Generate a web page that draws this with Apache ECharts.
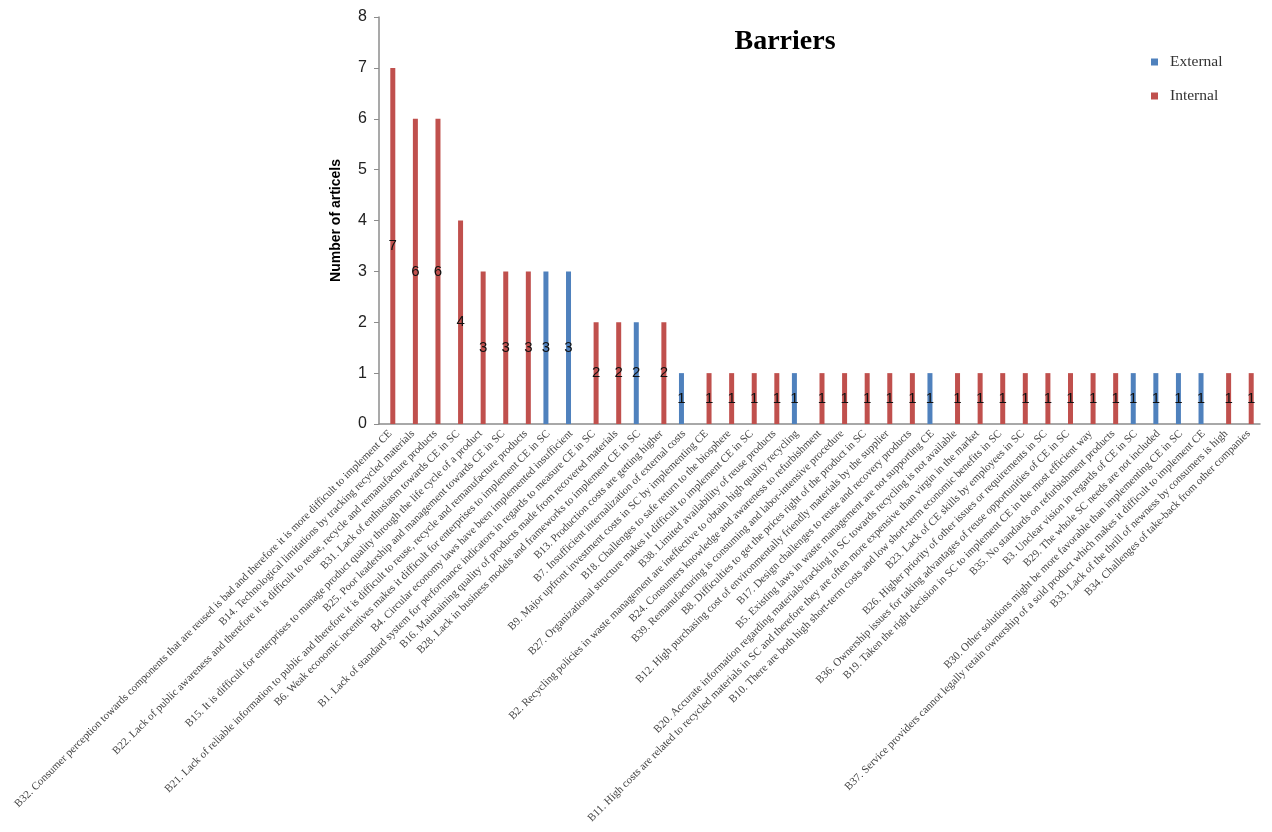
<!DOCTYPE html>
<html>
<head>
<meta charset="utf-8">
<title>Barriers</title>
<script src="https://cdn.jsdelivr.net/npm/echarts@6/dist/echarts.min.js"></script>
<style>
  html, body { margin: 0; padding: 0; background: #ffffff; }
  #chart { width: 1272px; height: 832px; }
</style>
</head>
<body>
<div id="chart"></div>
<script>
// Barrier statements, ordered by number of articles
const categories = [
  'B32. Consumer perception towards components that are reused is bad and therefore it is more difficult to implement CE',
  'B14. Technological limitations by tracking recycled materials',
  'B22. Lack of public awareness and therefore it is difficult to reuse, recycle and remanufacture products',
  'B31. Lack of enthusiasm towards CE in SC',
  'B15. It is difficult for enterprises to manage product quality through the life cycle of a product',
  'B25. Poor leadership and management towards CE in SC',
  'B21. Lack of reliable information to public and therefore it is difficult to reuse, recycle and remanufacture products',
  'B6. Weak economic incentives makes it difficult for enterprises to implement CE in SC',
  'B4. Circular economy laws have been implemented insufficient',
  'B1. Lack of standard system for performance indicators in regards to measure CE in SC',
  'B16. Maintaining quality of products made from recovered materials',
  'B28. Lack in business models and frameworks to implement CE in SC',
  'B13. Production costs are getting higher',
  'B7. Insufficient internalization of external costs',
  'B9. Major upfront investment costs in SC by implementing CE',
  'B18. Challenges to safe return to the biosphere',
  'B27. Organizational structure makes it difficult to implement CE in SC',
  'B38. Limited availability of reuse products',
  'B2. Recycling policies in waste management are ineffective to obtain high quality recycling',
  'B24. Consumers knowledge and awareness to refurbishment',
  'B39. Remanufacturing is consuming and labor-intensive procedure',
  'B8. Difficulties to get the prices right of the product in SC',
  'B12. High purchasing cost of environmentally friendly materials by the supplier',
  'B17. Design challenges to reuse and recovery products',
  'B5. Existing laws in waste management are not supporting CE',
  'B20. Accurate information regarding materials/tracking in SC towards recycling is not available',
  'B11. High costs are related to recycled materials in SC and therefore they are often more expensive than virgin in the market',
  'B10. There are both high short-term costs and low short-term economic benefits in SC',
  'B23. Lack of CE skills by employees in SC',
  'B26. Higher priority of other issues or requirements in SC',
  'B36. Ownership issues for taking advantages of reuse opportunities of CE in SC',
  'B19. Taken the right decision in SC to implement CE in the most efficient way',
  'B35. No standards on refurbishment products',
  'B3. Unclear vision in regards of CE in SC',
  'B29. The whole SC needs are not included',
  'B30. Other solutions might be more favorable than implementing CE in SC',
  'B37. Service providers cannot legally retain ownership of a sold product which makes it difficult to implement CE',
  'B33. Lack of the thrill of newness by consumers is high',
  'B34. Challenges of take-back from other companies'
];

// Number of articles per barrier (null = barrier belongs to the other group)
const externalCounts = [
  null, null, null, null, null, null, null, 3, 3, null,
  null, 2, null, 1, null, null, null, null, 1, null,
  null, null, null, null, 1, null, null, null, null, null,
  null, null, null, 1, 1, 1, 1, null, null
];
const internalCounts = [
  7, 6, 6, 4, 3, 3, 3, null, null, 2,
  2, null, 2, null, 1, 1, 1, 1, null, 1,
  1, 1, 1, 1, null, 1, 1, 1, 1, 1,
  1, 1, 1, null, null, null, null, 1, 1
];

const yTicks = { min: 0, max: 8, interval: 1 };

const chart = echarts.init(document.getElementById('chart'), null, { renderer: 'canvas' });

const valueLabel = {
  show: true,
  position: 'inside',
  color: '#111111',
  fontFamily: 'Liberation Sans, Arial, sans-serif',
  fontSize: 15
};

chart.setOption({
  backgroundColor: '#ffffff',
  animation: false,
  title: {
    text: 'Barriers',
    left: 780,
    top: 23,
    textAlign: 'center',
    textStyle: {
      fontFamily: 'Liberation Serif, Times New Roman, serif',
      fontWeight: 'bold',
      fontSize: 28,
      color: '#000000'
    }
  },
  legend: {
    orient: 'vertical',
    left: 1146,
    top: 49,
    itemWidth: 7,
    itemHeight: 7,
    itemGap: 18,
    icon: 'rect',
    data: ['External', 'Internal'],
    textStyle: {
      fontFamily: 'Liberation Serif, Times New Roman, serif',
      fontSize: 15.5,
      color: '#333333',
      padding: [0, 0, 0, 7]
    }
  },
  grid: { left: 379, right: 12, top: 17, bottom: 408 },
  xAxis: {
    type: 'category',
    data: categories,
    axisLine: { lineStyle: { color: '#8c8c8c', width: 1.5 } },
    axisTick: { show: false },
    axisLabel: {
      interval: 0,
      rotate: 45,
      margin: 8,
      fontFamily: 'Liberation Serif, Times New Roman, serif',
      fontSize: 11,
      color: '#444444'
    }
  },
  yAxis: {
    type: 'value',
    min: yTicks.min,
    max: yTicks.max,
    interval: yTicks.interval,
    name: 'Number of articels',
    nameLocation: 'middle',
    nameGap: 36,
    nameTextStyle: {
      fontFamily: 'Liberation Sans, Arial, sans-serif',
      fontWeight: 'bold',
      fontSize: 14,
      color: '#000000'
    },
    axisLine: { show: true, lineStyle: { color: '#8c8c8c', width: 1.5 } },
    axisTick: { show: true, length: 5, lineStyle: { color: '#8c8c8c' } },
    splitLine: { show: false },
    axisLabel: {
      margin: 12,
      fontFamily: 'Liberation Sans, Arial, sans-serif',
      fontSize: 16,
      color: '#222222'
    }
  },
  series: [
    {
      name: 'External',
      type: 'bar',
      data: externalCounts,
      barWidth: 5,
      barGap: '0%',
      itemStyle: { color: '#4f81bd' },
      label: valueLabel
    },
    {
      name: 'Internal',
      type: 'bar',
      data: internalCounts,
      barWidth: 5,
      barGap: '0%',
      itemStyle: { color: '#c0504d' },
      label: valueLabel
    }
  ]
});
</script>
</body>
</html>
